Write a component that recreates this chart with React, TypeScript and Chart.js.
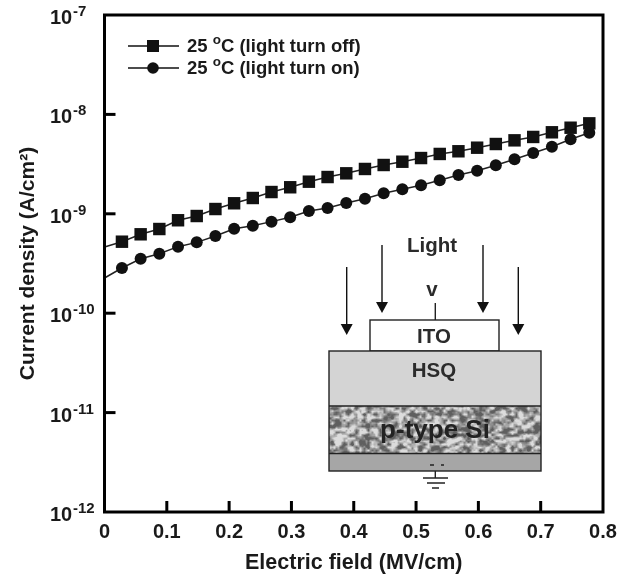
import React, { useEffect, useRef } from "react";
import { Chart, registerables } from "chart.js";

Chart.register(...registerables);

const fieldValues = [0, 0.028, 0.058, 0.088, 0.118, 0.148, 0.178, 0.208, 0.238, 0.268, 0.298, 0.328, 0.358, 0.388, 0.418, 0.448, 0.478, 0.508, 0.538, 0.568, 0.598, 0.628, 0.658, 0.688, 0.718, 0.748, 0.778];
const lightOff = [4.63e-10, 5.24e-10, 6.22e-10, 7.03e-10, 8.61e-10, 9.5e-10, 1.117e-9, 1.276e-9, 1.442e-9, 1.656e-9, 1.849e-9, 2.104e-9, 2.344e-9, 2.554e-9, 2.825e-9, 3.097e-9, 3.342e-9, 3.639e-9, 4.0e-9, 4.256e-9, 4.624e-9, 5.036e-9, 5.483e-9, 5.93e-9, 6.607e-9, 7.345e-9, 8.128e-9];
const lightOn = [2.26e-10, 2.85e-10, 3.53e-10, 3.97e-10, 4.67e-10, 5.16e-10, 5.98e-10, 7.08e-10, 7.59e-10, 8.34e-10, 9.23e-10, 1.067e-9, 1.143e-9, 1.285e-9, 1.419e-9, 1.607e-9, 1.762e-9, 1.936e-9, 2.173e-9, 2.455e-9, 2.71e-9, 3.076e-9, 3.532e-9, 4.093e-9, 4.732e-9, 5.623e-9, 6.546e-9];
const xTicks = [0, 0.1, 0.2, 0.3, 0.4, 0.5, 0.6, 0.7, 0.8];
const yTicks = [1e-7, 1e-8, 1e-9, 1e-10, 1e-11, 1e-12];
const yTickExponents = ["-7", "-8", "-9", "-10", "-11", "-12"];
const seriesNames = ["25 ", "25 "];
const seriesSuffix = ["C (light turn off)", "C (light turn on)"];

const FONT = '"Liberation Sans", Arial, sans-serif';
const INK = "#1a1a1a";

function hash(a: number, b: number) {
  const s = Math.sin(a * 12.9898 + b * 78.233) * 43758.5453;
  return s - Math.floor(s);
}

function smooth(x: number, y: number) {
  const ix = Math.floor(x), iy = Math.floor(y);
  const fx = x - ix, fy = y - iy;
  const top = hash(ix, iy) * (1 - fx) + hash(ix + 1, iy) * fx;
  const bot = hash(ix, iy + 1) * (1 - fx) + hash(ix + 1, iy + 1) * fx;
  return top * (1 - fy) + bot * fy;
}

const framePlugin = {
  id: "frame",
  afterDraw(chart: any) {
    const { ctx, chartArea: a, scales } = chart;
    ctx.save();
    ctx.strokeStyle = "#000";
    ctx.lineWidth = 3;
    ctx.strokeRect(a.left, a.top, a.right - a.left, a.bottom - a.top);
    xTicks.slice(1, -1).forEach((v) => {
      const x = scales.x.getPixelForValue(v);
      ctx.beginPath();
      ctx.moveTo(x, a.bottom);
      ctx.lineTo(x, a.bottom - 11);
      ctx.stroke();
    });
    yTicks.slice(1, -1).forEach((v) => {
      const y = scales.y.getPixelForValue(v);
      ctx.beginPath();
      ctx.moveTo(a.left, y);
      ctx.lineTo(a.left + 11, y);
      ctx.stroke();
    });
    ctx.fillStyle = INK;
    ctx.textBaseline = "alphabetic";
    yTicks.forEach((v, i) => {
      const y = scales.y.getPixelForValue(v);
      const bx = 50;
      ctx.textAlign = "left";
      ctx.font = `bold 20px ${FONT}`;
      ctx.fillText("10", bx, y + 9);
      ctx.font = `bold 15px ${FONT}`;
      ctx.fillText(yTickExponents[i], bx + 23, y + 1);
    });
    const rows = [46, 68];
    rows.forEach((y, i) => {
      ctx.strokeStyle = "#111";
      ctx.lineWidth = 1.3;
      ctx.beginPath();
      ctx.moveTo(128, y);
      ctx.lineTo(179, y);
      ctx.stroke();
      ctx.fillStyle = "#111";
      if (i === 0) {
        ctx.fillRect(147, y - 6, 12, 12);
      } else {
        ctx.beginPath();
        ctx.arc(153, y, 5.8, 0, Math.PI * 2);
        ctx.fill();
      }
      ctx.fillStyle = INK;
      ctx.textAlign = "left";
      ctx.font = `bold 18.5px ${FONT}`;
      const t0 = seriesNames[i];
      ctx.fillText(t0, 187, y + 6);
      const w0 = ctx.measureText(t0).width;
      ctx.font = `bold 13.5px ${FONT}`;
      ctx.fillText("o", 187 + w0, y - 2);
      const w1 = ctx.measureText("o").width;
      ctx.font = `bold 18.5px ${FONT}`;
      ctx.fillText(seriesSuffix[i], 187 + w0 + w1, y + 6);
    });
    drawInset(ctx);
    ctx.restore();
  },
};

function arrow(ctx: any, x: number, y0: number, tip: number) {
  ctx.strokeStyle = "#111";
  ctx.fillStyle = "#111";
  ctx.lineWidth = 1.4;
  ctx.beginPath();
  ctx.moveTo(x, y0);
  ctx.lineTo(x, tip - 8);
  ctx.stroke();
  ctx.beginPath();
  ctx.moveTo(x - 6, tip - 11);
  ctx.lineTo(x + 6, tip - 11);
  ctx.lineTo(x, tip);
  ctx.closePath();
  ctx.fill();
}

function drawInset(ctx: any) {
  const L = 329, R = 541;
  ctx.save();
  arrow(ctx, 346.7, 267, 335);
  arrow(ctx, 382, 245, 313);
  arrow(ctx, 483, 245, 313);
  arrow(ctx, 518.3, 267, 335);

  ctx.strokeStyle = "#222";
  ctx.lineWidth = 1.4;
  ctx.beginPath();
  ctx.moveTo(435.3, 303);
  ctx.lineTo(435.3, 320);
  ctx.stroke();
  ctx.fillStyle = "#fff";
  ctx.fillRect(370, 320, 129, 31);
  ctx.strokeRect(370, 320, 129, 31);
  ctx.fillStyle = "#d4d4d4";
  ctx.fillRect(L, 351, R - L, 55);
  // Si blotchy texture
  for (let y = 406; y < 453; y += 1) {
    for (let x = L; x < R; x += 1) {
      const n = smooth(x / 4, y / 3) * 0.75 + smooth(x / 2, y / 2 + 40) * 0.25;
      const c = Math.min(1, Math.max(0, (n - 0.28) / 0.44));
      const g = Math.round(95 + c * 125);
      ctx.fillStyle = `rgb(${g},${g},${g})`;
      ctx.fillRect(x, y, 1, 1);
    }
  }
  ctx.fillStyle = "#a6a6a6";
  ctx.fillRect(L, 453, R - L, 18);
  ctx.strokeRect(L, 351, R - L, 120);
  ctx.beginPath();
  ctx.moveTo(L, 406);
  ctx.lineTo(R, 406);
  ctx.moveTo(L, 453.5);
  ctx.lineTo(R, 453.5);
  ctx.stroke();
  ctx.beginPath();
  ctx.moveTo(430, 465);
  ctx.lineTo(434, 465);
  ctx.moveTo(441, 465);
  ctx.lineTo(444, 465);
  ctx.stroke();
  ctx.beginPath();
  ctx.moveTo(435.3, 471);
  ctx.lineTo(435.3, 478);
  ctx.moveTo(423, 478);
  ctx.lineTo(448, 478);
  ctx.moveTo(427, 483);
  ctx.lineTo(445, 483);
  ctx.moveTo(432, 488);
  ctx.lineTo(439, 488);
  ctx.stroke();

  ctx.textAlign = "center";
  ctx.textBaseline = "middle";
  ctx.fillStyle = "#2b2b2b";
  ctx.font = `bold 20.5px ${FONT}`;
  ctx.fillText("Light", 432, 246);
  ctx.fillText("v", 432, 290);
  ctx.fillText("ITO", 434, 337);
  ctx.fillText("HSQ", 434, 371);
  ctx.fillStyle = "#222";
  ctx.font = `bold 26px ${FONT}`;
  ctx.fillText("p-type Si", 435, 431);
  ctx.restore();
}

export default function App() {
  const ref = useRef<HTMLCanvasElement>(null);
  useEffect(() => {
    const chart = new Chart(ref.current as HTMLCanvasElement, {
      type: "line",
      plugins: [framePlugin],
      data: {
        labels: fieldValues,
        datasets: [
          {
            label: "25 °C (light turn off)",
            data: fieldValues.map((x, i) => ({ x, y: lightOff[i] })),
            borderColor: "#222",
            borderWidth: 1.5,
            backgroundColor: "#111",
            pointStyle: "rect",
            pointRadius: (c: any) => (c.dataIndex === 0 ? 0 : 8.8),
            pointBorderWidth: 0,
          },
          {
            label: "25 °C (light turn on)",
            data: fieldValues.map((x, i) => ({ x, y: lightOn[i] })),
            borderColor: "#222",
            borderWidth: 1.5,
            backgroundColor: "#111",
            pointStyle: "circle",
            pointRadius: (c: any) => (c.dataIndex === 0 ? 0 : 6),
            pointBorderWidth: 0,
          },
        ],
      },
      options: {
        responsive: false,
        animation: false,
        clip: false,
        layout: { padding: { left: 0, right: 24, top: 15, bottom: 0 } },
        plugins: { legend: { display: false }, tooltip: { enabled: false } },
        scales: {
          x: {
            type: "linear",
            min: 0,
            max: 0.8,
            afterFit: (s: any) => { s.height = 67; },
            afterBuildTicks: (s: any) => { s.ticks = xTicks.map((value) => ({ value })); },
            grid: { display: false, drawTicks: false },
            border: { display: false },
            ticks: {
              padding: 8,
              color: INK,
              maxRotation: 0,
              autoSkip: false,
              font: { family: FONT, size: 20, weight: "bold" },
              callback: (v: any) => (Number(v) === 0 ? "0" : Number(v).toFixed(1)),
            },
            title: {
              display: true,
              text: "Electric field (MV/cm)",
              color: INK,
              padding: { top: 0, bottom: 3 },
              font: { family: FONT, size: 21.5, weight: "bold" },
            },
          },
          y: {
            type: "logarithmic",
            min: 1e-12,
            max: 1e-7,
            afterFit: (s: any) => { s.width = 104.5; },
            grid: { display: false, drawTicks: false },
            border: { display: false },
            ticks: { display: false },
            title: {
              display: true,
              text: "Current density (A/cm²)",
              color: INK,
              padding: { top: 16, bottom: 0 },
              font: { family: FONT, size: 21, weight: "bold" },
            },
          },
        },
      } as any,
    });
    return () => chart.destroy();
  }, []);
  return (
    <canvas
      ref={ref}
      width={627}
      height={579}
      style={{ position: "fixed", left: 0, top: 0, width: 627, height: 579, background: "#fff" }}
    />
  );
}
